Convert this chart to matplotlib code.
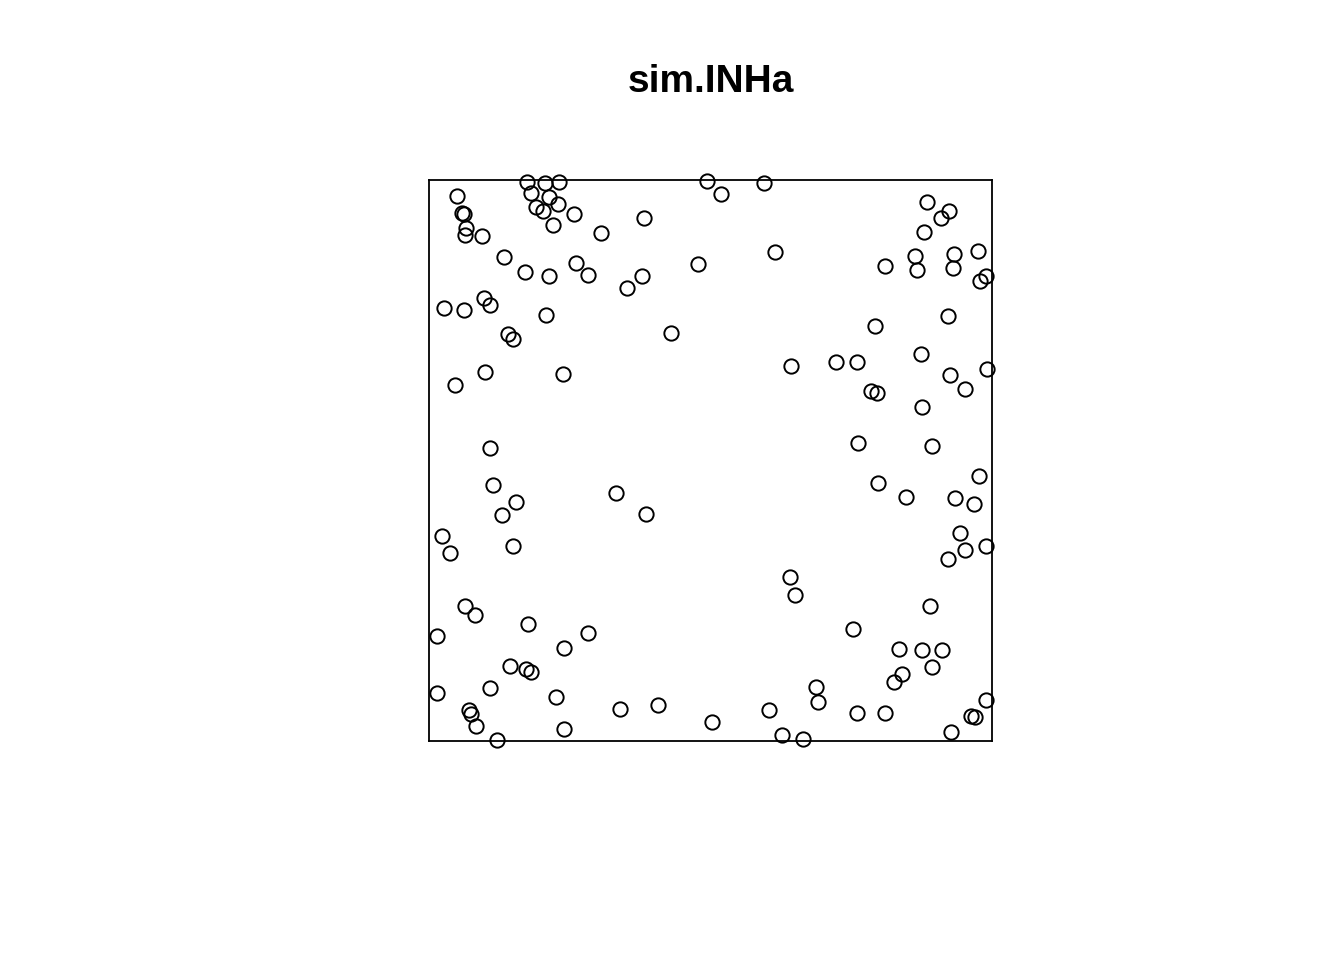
import matplotlib
matplotlib.use("Agg")
import matplotlib.pyplot as plt

title = "sim.INHa"

x = [0.174, 0.205, 0.230, 0.050, 0.180, 0.213, 0.228, 0.190, 0.202, 0.058,
     0.062, 0.257, 0.220, 0.382, 0.065, 0.063, 0.094, 0.305, 0.132, 0.171,
     0.212, 0.261, 0.283, 0.352, 0.379, 0.477, 0.098, 0.108, 0.027, 0.061,
     0.207, 0.140, 0.148, 0.430, 0.099, 0.238, 0.046, 0.108, 0.493, 0.518,
     0.595, 0.885, 0.924, 0.909, 0.880, 0.614, 0.864, 0.933, 0.975, 0.810,
     0.868, 0.932, 0.990, 0.980, 0.922, 0.793, 0.643, 0.724, 0.760, 0.874,
     0.926, 0.992, 0.953, 0.786, 0.796, 0.876, 0.762, 0.894, 0.113, 0.155,
     0.129, 0.332, 0.385, 0.023, 0.036, 0.148, 0.063, 0.082, 0.176, 0.013,
     0.283, 0.240, 0.143, 0.172, 0.181, 0.013, 0.108, 0.225, 0.070, 0.075,
     0.083, 0.121, 0.239, 0.339, 0.406, 0.503, 0.604, 0.628, 0.664, 0.688,
     0.692, 0.761, 0.811, 0.641, 0.650, 0.753, 0.836, 0.876, 0.912, 0.894,
     0.840, 0.827, 0.891, 0.797, 0.847, 0.977, 0.934, 0.968, 0.944, 0.953,
     0.923, 0.989, 0.990, 0.963, 0.970, 0.928]

y = [0.996, 0.995, 0.996, 0.971, 0.976, 0.970, 0.958, 0.951, 0.944, 0.941,
     0.939, 0.940, 0.920, 0.933, 0.914, 0.902, 0.901, 0.905, 0.862, 0.836,
     0.829, 0.852, 0.830, 0.807, 0.828, 0.850, 0.790, 0.778, 0.771, 0.768,
     0.759, 0.725, 0.716, 0.728, 0.658, 0.654, 0.635, 0.522, 0.998, 0.975,
     0.995, 0.961, 0.945, 0.933, 0.908, 0.871, 0.864, 0.868, 0.874, 0.846,
     0.839, 0.844, 0.829, 0.820, 0.757, 0.740, 0.668, 0.676, 0.676, 0.690,
     0.652, 0.663, 0.627, 0.623, 0.621, 0.596, 0.532, 0.526, 0.456, 0.426,
     0.402, 0.442, 0.405, 0.366, 0.336, 0.348, 0.241, 0.225, 0.209, 0.187,
     0.192, 0.165, 0.133, 0.128, 0.123, 0.085, 0.094, 0.079, 0.055, 0.049,
     0.027, 0.001, 0.022, 0.057, 0.064, 0.034, 0.055, 0.010, 0.004, 0.097,
     0.069, 0.050, 0.050, 0.292, 0.261, 0.199, 0.164, 0.163, 0.162, 0.132,
     0.120, 0.105, 0.240, 0.460, 0.435, 0.472, 0.434, 0.422, 0.370, 0.340,
     0.325, 0.348, 0.073, 0.045, 0.042, 0.016]

W, H = 1344, 960
fig = plt.figure(figsize=(W / 100, H / 100), dpi=100)
fig.patch.set_facecolor("white")

ax = fig.add_axes([429.3 / W, (960 - 741) / H, 562.4 / W, 561 / H])
ax.set_xlim(0, 1)
ax.set_ylim(0, 1)
ax.set_xticks([])
ax.set_yticks([])
for s in ax.spines.values():
    s.set_linewidth(1.3)
    s.set_color("black")

ax.plot(x, y, linestyle="none", marker="o", markersize=10.3,
        markerfacecolor="none", markeredgecolor="black",
        markeredgewidth=1.4, clip_on=False)

fig.text(710.5 / W, (960 - 92) / H, title, ha="center", va="baseline",
         fontsize=28, fontweight="bold", family=["Liberation Sans", "DejaVu Sans"])

fig.savefig("out.png", dpi=100, facecolor="white")
